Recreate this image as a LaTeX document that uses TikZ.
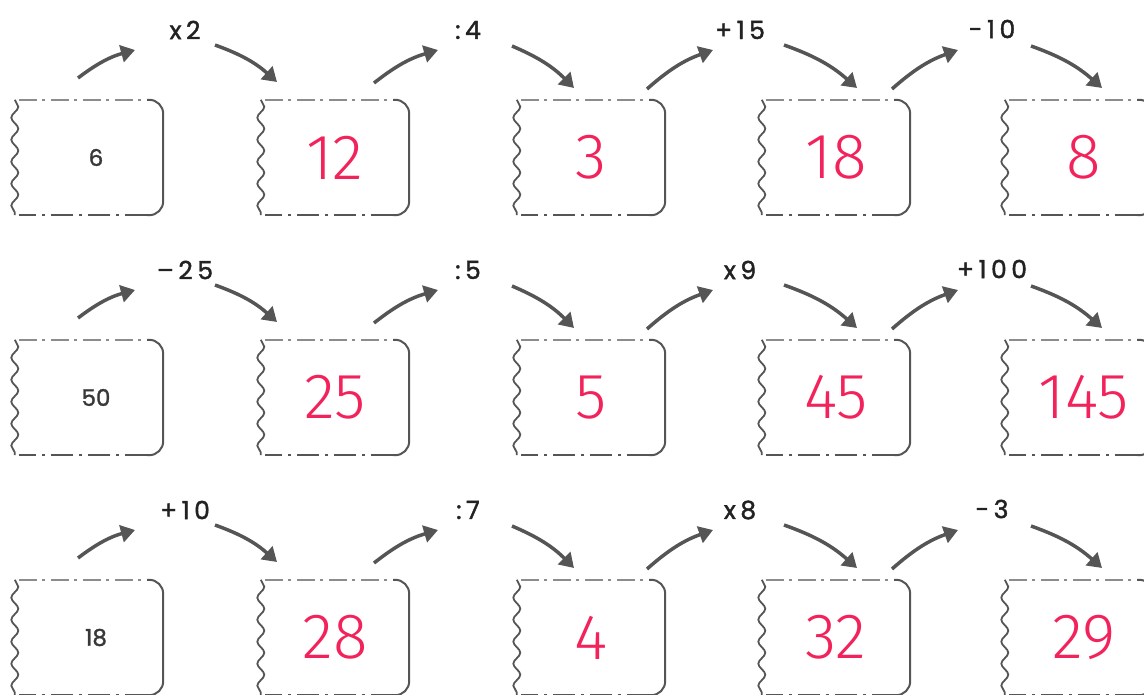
\documentclass[tikz,border=0pt]{standalone}
\usepackage{fontspec}
\usetikzlibrary{arrows.meta,decorations.pathmorphing}
\newfontfamily\labfont{Poppins}[LetterSpace=18, FakeBold=1.6]
\newfontfamily\numfont{Poppins}[FakeBold=1.4]
\newfontfamily\redfont{Fira Sans Light}
\definecolor{ink}{RGB}{85,85,85}
\definecolor{inklight}{RGB}{140,140,140}
\definecolor{redpen}{RGB}{242,34,90}
\definecolor{labcol}{RGB}{34,34,34}
\tikzset{
  boxnode/.style={minimum width=148pt, minimum height=115pt, inner sep=0pt, draw=none},
  given/.style={boxnode, font=\numfont\fontsize{23}{23}\selectfont, text=black!78},
  answer/.style={boxnode, font=\redfont\fontsize{64}{64}\selectfont, text=redpen},
  oplabel/.style={font=\labfont\fontsize{25}{25}\selectfont, text=labcol, inner sep=0pt},
  oparrow/.style={line width=3.5pt, draw=ink, -{Triangle[length=14pt,width=17pt]}, bend left=11},
  topedge/.style={draw=inklight, line width=2pt, dash pattern=on 18pt off 5pt on 3pt off 6pt},
  sideedge/.style={draw=ink, line width=2pt, rounded corners=14pt},
  botedge/.style={draw=ink, line width=2pt, dash pattern=on 22pt off 6pt on 3pt off 6pt},
  leftedge/.style={draw=ink, line width=1.8pt, decorate, decoration={snake, amplitude=3.5pt, segment length=22pt}}
}
\newcommand\frameit[1]{%
  \draw[topedge] ([xshift=4pt]#1.north west) -- ([xshift=-16pt]#1.north east);
  \draw[sideedge] ([xshift=-16pt]#1.north east) -- (#1.north east) -- (#1.south east) -- ([xshift=-16pt]#1.south east);
  \draw[botedge] ([xshift=-16pt]#1.south east) -- ([xshift=4pt]#1.south west);
  \draw[leftedge] (#1.north west) -- (#1.south west);
}
\begin{document}
\begin{tikzpicture}[x=1pt,y=-1pt]
\useasboundingbox (0,0) rectangle (1144,695);
\foreach \r/\y/\a/\b/\c/\d/\e in {1/100/6/12/3/18/8, 2/340/50/25/5/45/145, 3/580/18/28/4/32/29}{
  \node[given]  (b\r1) at (89,{\y+57.5})   {\hspace*{14pt}\a};
  \node[answer] (b\r2) at (335,{\y+57.5})  {\b};
  \node[answer] (b\r3) at (591,{\y+57.5})  {\c};
  \node[answer] (b\r4) at (836,{\y+57.5})  {\d};
  \node[answer] (b\r5) at (1079,{\y+57.5}) {\hspace*{10pt}\e};
  \frameit{b\r1}\frameit{b\r2}\frameit{b\r3}\frameit{b\r4}\frameit{b\r5}
}
\foreach \r/\dy/\la/\lb/\lc/\ld in {1/0/x2/:4/+15/-10, 2/240/–25/:5/x9/+100, 3/480/+10/:7/x8/-3}{
  \node[oplabel] (l\r1) at (185,{30+\dy}) {\la};
  \node[oplabel] (l\r2) at (468,{30+\dy}) {\lb};
  \node[oplabel] (l\r3) at (740,{30+\dy}) {\lc};
  \node[oplabel] (l\r4) at (992,{29+\dy}) {\ld};
  \coordinate (us\r1) at (78,{78+\dy});    \coordinate (ue\r1) at (135,{50+\dy});
  \coordinate (ds\r1) at (215,{45+\dy});   \coordinate (de\r1) at (277,{82+\dy});
  \coordinate (us\r2) at (374,{83+\dy});   \coordinate (ue\r2) at (438,{50+\dy});
  \coordinate (ds\r2) at (512,{46+\dy});   \coordinate (de\r2) at (574,{88+\dy});
  \coordinate (us\r3) at (647,{89+\dy});   \coordinate (ue\r3) at (713,{50+\dy});
  \coordinate (ds\r3) at (784,{45+\dy});   \coordinate (de\r3) at (857,{88+\dy});
  \coordinate (us\r4) at (892,{89+\dy});   \coordinate (ue\r4) at (958,{50+\dy});
  \coordinate (ds\r4) at (1031,{46+\dy});  \coordinate (de\r4) at (1102,{88+\dy});
  \foreach \g in {1,2,3,4}{
    \draw[oparrow] (us\r\g) to (ue\r\g);
    \draw[oparrow] (ds\r\g) to (de\r\g);
  }
}
\end{tikzpicture}
\end{document}
